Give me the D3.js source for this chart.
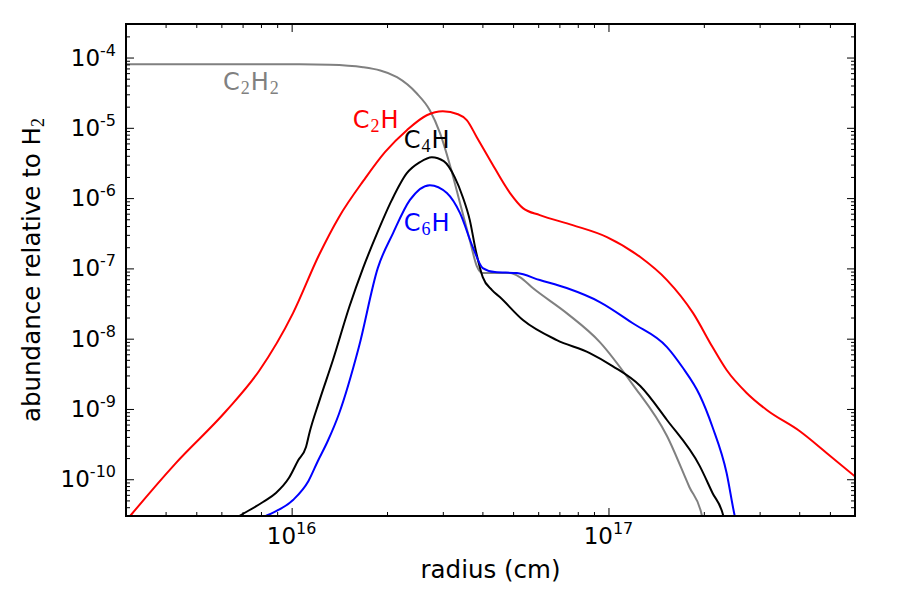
<!DOCTYPE html>
<html>
<head>
<meta charset="utf-8">
<script src="https://cdn.jsdelivr.net/npm/d3@7"></script>
<style>
  body { margin: 0; background: #fff; }
  text { font-family: "DejaVu Sans", sans-serif; }
</style>
</head>
<body>
<div id="chart"></div>
<script>
// [radius (cm), abundance relative to H2]
const c2h = [
  [3.0e15, 2.55e-11], [3.11e15, 3.1e-11], [4.31e15, 1.7e-10], [6.21e15, 9.35e-10],
  [7.89e15, 3.47e-9], [1.01e16, 2.31e-8], [1.22e16, 1.55e-7], [1.41e16, 5.36e-7],
  [1.69e16, 1.8e-6], [1.97e16, 4.5e-6], [2.31e16, 9.25e-6], [2.67e16, 1.51e-5],
  [3.0e16, 1.72e-5], [3.35e16, 1.56e-5], [3.57e16, 1.29e-5], [3.84e16, 7.36e-6],
  [4.23e16, 3.47e-6], [4.89e16, 1.18e-6], [5.37e16, 7.2e-7], [6.07e16, 5.73e-7],
  [7.71e16, 4.13e-7], [9.89e16, 2.79e-7], [1.26e17, 1.45e-7], [1.53e17, 6.82e-8],
  [1.85e17, 2.31e-8], [2.13e17, 7.6e-9], [2.36e17, 3.58e-9], [2.73e17, 1.69e-9],
  [3.16e17, 9.66e-10], [4.01e17, 4.85e-10], [4.88e17, 2.37e-10], [5.98e17, 1.11e-10]
];

const c4h = [
  [6.67e15, 2.81e-11], [6.92e15, 3.1e-11], [8.12e15, 4.75e-11], [8.92e15, 6.38e-11],
  [9.8e15, 1.04e-10], [1.05e16, 1.88e-10], [1.11e16, 2.88e-10], [1.14e16, 4.7e-10],
  [1.22e16, 1.26e-9], [1.35e16, 4.97e-9], [1.52e16, 2.82e-8], [1.68e16, 1.01e-7],
  [1.85e16, 2.97e-7], [2.07e16, 9.35e-7], [2.31e16, 2.26e-6], [2.54e16, 3.24e-6],
  [2.77e16, 3.82e-6], [3.02e16, 3.35e-6], [3.27e16, 1.99e-6], [3.47e16, 1.03e-6],
  [3.65e16, 4.86e-7], [3.81e16, 1.82e-7], [4.01e16, 7.52e-8], [4.29e16, 4.91e-8],
  [4.54e16, 3.91e-8], [5.37e16, 1.84e-8], [6.87e16, 9.55e-9], [8.73e16, 6.25e-9],
  [1.03e17, 4.08e-9], [1.26e17, 2.12e-9], [1.53e17, 6.97e-10], [1.94e17, 1.55e-10],
  [2.13e17, 6.38e-11], [2.3e17, 3.1e-11], [2.32e17, 2.64e-11]
];

const c6h = [
  [8.06e15, 2.81e-11], [8.42e15, 3.1e-11], [1.01e16, 5.07e-11], [1.13e16, 9.46e-11],
  [1.21e16, 1.82e-10], [1.3e16, 3.5e-10], [1.41e16, 8.48e-10], [1.63e16, 7.6e-9],
  [1.87e16, 1.01e-7], [2.09e16, 3.18e-7], [2.36e16, 9.35e-7], [2.73e16, 1.53e-6],
  [3.09e16, 1.18e-6], [3.4e16, 6.11e-7], [3.73e16, 2.01e-7], [4.01e16, 1.01e-7],
  [4.38e16, 8.85e-8], [5.14e16, 8.57e-8], [6.07e16, 6.82e-8], [7.38e16, 5.25e-8],
  [9.39e16, 3.32e-8], [1.19e17, 1.67e-8], [1.53e17, 7.6e-9], [1.71e17, 3.95e-9],
  [1.94e17, 1.58e-9], [2.13e17, 5.54e-10], [2.36e17, 1.23e-10], [2.5e17, 3.1e-11],
  [2.52e17, 2.64e-11]
];

const c2h2 = [
  [3.0e15, 8.0e-5], [1.06e16, 8.0e-5], [1.32e16, 7.9e-5], [1.68e16, 7.28e-5],
  [2.15e16, 5.25e-5], [2.48e16, 3.1e-5], [2.73e16, 1.78e-5], [2.94e16, 8.4e-6],
  [3.16e16, 2.94e-6], [3.4e16, 8.47e-7], [3.65e16, 2.52e-7], [3.84e16, 1.08e-7],
  [4.01e16, 8.57e-8], [4.89e16, 8.57e-8], [5.25e16, 7.52e-8], [5.77e16, 5.25e-8],
  [7.38e16, 2.31e-8], [9.39e16, 8.95e-9], [1.19e17, 2.26e-9], [1.53e17, 4.12e-10],
  [1.8e17, 7.76e-11], [1.97e17, 3.1e-11], [1.98e17, 2.64e-11]
];

const xTickExps = [16, 17];
const yTickExps = [-10, -9, -8, -7, -6, -5, -4];

// species labels: name parts and where they sit (data space)
const labels = [
  { base: "C", sub: "2", rest: "H", sub2: "2", color: "#808080", at: [6.07e15, 3.43e-5] },
  { base: "C", sub: "2", rest: "H", sub2: "", color: "#ff0000", at: [1.56e16, 9.9e-6] },
  { base: "C", sub: "4", rest: "H", sub2: "", color: "#000000", at: [2.26e16, 5.13e-6] },
  { base: "C", sub: "6", rest: "H", sub2: "", color: "#0000ff", at: [2.26e16, 3.39e-7] }
];

const width = 900, height = 600;
const plot = { left: 126, top: 24, right: 855, bottom: 516 };

const x = d3.scaleLog().domain([3e15, 6e17]).range([plot.left, plot.right]);
const y = d3.scaleLog().domain([3e-11, 3e-4]).range([plot.bottom, plot.top]);

const svg = d3
  .select("#chart")
  .append("svg")
  .attr("width", width)
  .attr("height", height);

svg
  .append("defs")
  .append("clipPath")
  .attr("id", "plot-clip")
  .append("rect")
  .attr("x", plot.left)
  .attr("y", plot.top)
  .attr("width", plot.right - plot.left)
  .attr("height", plot.bottom - plot.top);

const line = d3
  .line()
  .x((d) => x(d[0]))
  .y((d) => y(d[1]))
  .curve(d3.curveMonotoneX);

const series = [
  { data: c2h2, color: "#808080" },
  { data: c2h, color: "#ff0000" },
  { data: c4h, color: "#000000" },
  { data: c6h, color: "#0000ff" }
];

svg
  .append("g")
  .attr("clip-path", "url(#plot-clip)")
  .selectAll("path")
  .data(series)
  .enter()
  .append("path")
  .attr("d", (d) => line(d.data))
  .attr("fill", "none")
  .attr("stroke", (d) => d.color)
  .attr("stroke-width", 2);

// majors at powers of ten, minors at 2..9
function minorTicks(scale) {
  const [a, b] = scale.domain();
  const out = [];
  for (let e = Math.floor(Math.log10(a)); e <= Math.ceil(Math.log10(b)); e++) {
    for (let m = 2; m <= 9; m++) {
      const v = m * Math.pow(10, e);
      if (v >= a && v <= b) out.push(v);
    }
  }
  return out;
}

const xMajor = xTickExps.map((e) => Math.pow(10, e));
const yMajor = yTickExps.map((e) => Math.pow(10, e));

function drawAxis(axisFn, scale, major, translate) {
  const g = svg.append("g").attr("transform", translate);
  g.call(axisFn(scale).tickValues(major).tickSize(-8).tickFormat(""));
  const g2 = svg.append("g").attr("transform", translate);
  g2.call(axisFn(scale).tickValues(minorTicks(scale)).tickSize(-4).tickFormat(""));
  [g, g2].forEach((s) => {
    s.select(".domain").remove();
    s.selectAll(".tick line").attr("stroke", "#000").attr("stroke-width", 1);
  });
}

drawAxis(d3.axisBottom, x, xMajor, `translate(0,${plot.bottom})`);
drawAxis(d3.axisTop, x, xMajor, `translate(0,${plot.top})`);
drawAxis(d3.axisLeft, y, yMajor, `translate(${plot.left},0)`);
drawAxis(d3.axisRight, y, yMajor, `translate(${plot.right},0)`);

svg
  .append("rect")
  .attr("x", plot.left)
  .attr("y", plot.top)
  .attr("width", plot.right - plot.left)
  .attr("height", plot.bottom - plot.top)
  .attr("fill", "none")
  .attr("stroke", "#000")
  .attr("stroke-width", 2);

// tick labels 10^n
const xLab = svg
  .selectAll(".xlab")
  .data(xTickExps)
  .enter()
  .append("text")
  .attr("class", "xlab")
  .attr("x", (d) => x(Math.pow(10, d)))
  .attr("y", plot.bottom + 28)
  .attr("text-anchor", "middle")
  .style("font-size", "23px");
xLab.append("tspan").text("10");
xLab
  .append("tspan")
  .attr("dy", -10)
  .style("font-size", "16px")
  .text((d) => d);

const yLab = svg
  .selectAll(".ylab")
  .data(yTickExps)
  .enter()
  .append("text")
  .attr("class", "ylab")
  .attr("x", plot.left - 10)
  .attr("y", (d) => y(Math.pow(10, d)) + 8)
  .attr("text-anchor", "end")
  .style("font-size", "23px");
yLab.append("tspan").text("10");
yLab
  .append("tspan")
  .attr("dy", -10)
  .style("font-size", "16px")
  .text((d) => "-" + Math.abs(d));

// axis titles
svg
  .append("text")
  .attr("x", (plot.left + plot.right) / 2)
  .attr("y", 578)
  .attr("text-anchor", "middle")
  .style("font-size", "24.5px")
  .text("radius (cm)");

const yTitle = svg
  .append("text")
  .attr("transform", `translate(40,${(plot.top + plot.bottom) / 2}) rotate(-90)`)
  .attr("text-anchor", "middle")
  .style("font-size", "24.5px");
yTitle.append("tspan").text("abundance relative to H");
yTitle
  .append("tspan")
  .attr("dy", 4)
  .style("font-family", "'Liberation Serif', serif")
  .style("font-size", "18px")
  .text("2");

// species labels
labels.forEach((l) => {
  const t = svg
    .append("text")
    .attr("x", x(l.at[0]))
    .attr("y", y(l.at[1]))
    .attr("fill", l.color)
    .style("font-size", "24px");
  t.append("tspan").text(l.base);
  t.append("tspan")
    .attr("dx", 1)
    .attr("dy", 4)
    .style("font-family", "'Liberation Serif', serif")
    .style("font-size", "18px")
    .text(l.sub);
  t.append("tspan").attr("dx", 1).attr("dy", -4).text(l.rest);
  if (l.sub2) {
    t.append("tspan")
      .attr("dx", 1)
      .attr("dy", 4)
      .style("font-family", "'Liberation Serif', serif")
      .style("font-size", "18px")
      .text(l.sub2);
  }
});
</script>
</body>
</html>
